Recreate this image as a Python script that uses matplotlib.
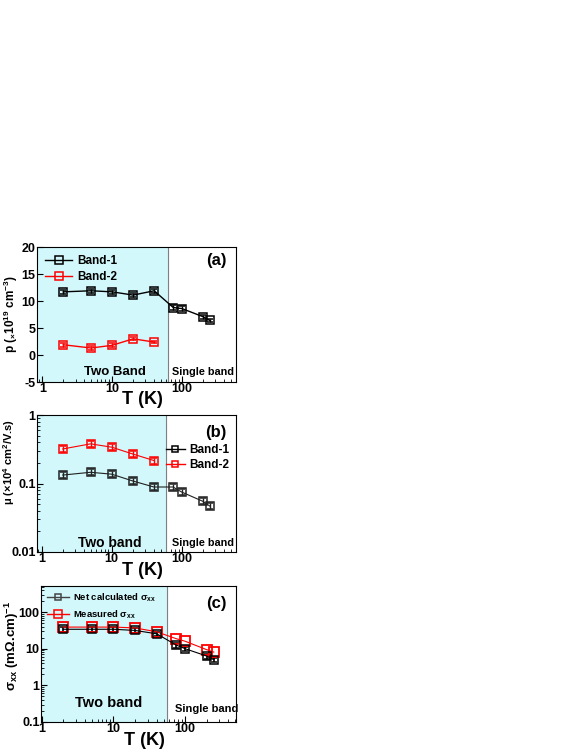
import matplotlib
matplotlib.use("Agg")
import matplotlib.pyplot as plt
from matplotlib.lines import Line2D
import numpy as np

plt.rcParams['font.family'] = ['Liberation Sans', 'DejaVu Sans']
plt.rcParams['font.weight'] = 'bold'
plt.rcParams['axes.labelweight'] = 'bold'
plt.rcParams['mathtext.default'] = 'regular'
plt.rcParams['axes.unicode_minus'] = False

# temperatures
T_all = [2, 5, 10, 20, 40, 75, 100, 200, 250]
T_two = [2, 5, 10, 20, 40]

# (a) carrier density, 1e19 cm^-3
p_band1 = [11.7, 11.9, 11.7, 11.1, 11.9, 8.8, 8.6, 7.1, 6.4]
p_band1_err = [0.4, 0.4, 0.4, 0.4, 0.4, 0.4, 0.4, 0.4, 0.3]
p_band2 = [1.9, 1.3, 1.8, 3.0, 2.4]
p_band2_err = [0.4, 0.4, 0.4, 0.3, 0.2]

# (b) mobility, 1e4 cm^2/V.s
mu_band1 = [0.133, 0.146, 0.137, 0.109, 0.089, 0.089, 0.075, 0.055, 0.047]
mu_band2 = [0.32, 0.38, 0.34, 0.27, 0.217]

# (c) conductivity, (mOhm cm)^-1
sig_calc = [34, 34, 34, 31.6, 25.6, 12.6, 10, 6.3, 5.0]
sig_meas = [39, 39, 39, 37, 29, 18.8, 16, 9.4, 8.1]

shade = '#D2F8FB'


def style(ax, xlim):
    ax.set_xscale('log')
    ax.set_xlim(*xlim)
    ax.set_xticks([1, 10, 100])
    ax.set_xticklabels(['1', '10', '100'])
    ax.tick_params(which='both', direction='in', labelsize=9, pad=1)
    ax.tick_params(which='major', length=4)
    ax.tick_params(which='minor', length=2)
    ax.set_xlabel('T (K)', fontsize=13)
    ax.xaxis.set_label_coords(0.53, -0.07)
    for lab in ax.get_xticklabels() + ax.get_yticklabels():
        lab.set_fontweight('bold')


def handle(color, ms=6):
    return Line2D([], [], color=color, marker='s', ms=ms, mfc='none', mew=1.1, lw=1)


fig = plt.figure(figsize=(5.81, 7.52), dpi=100)

# ---- (a)
ax1 = fig.add_axes([0.0637, 0.492, 0.343, 0.1795])
ax1.axvspan(0.5, 64, color=shade, zorder=0)
ax1.axvline(64, color='gray', lw=0.8)
ax1.errorbar(T_all, p_band1, yerr=p_band1_err, color='black', marker='s', ms=5.5,
             mfc='none', mew=1.1, lw=1, capsize=2, elinewidth=1)
ax1.errorbar(T_two, p_band2, yerr=p_band2_err, color='red', marker='s', ms=5.5,
             mfc='none', mew=1.1, lw=1, capsize=2, elinewidth=1)
ax1.set_ylim(-5, 20)
ax1.set_yticks([-5, 0, 5, 10, 15, 20])
style(ax1, (0.84, 600))
ax1.set_ylabel(r'p ($_{\times}$10$^{19}$ cm$^{-3}$)', fontsize=8.5)
ax1.yaxis.set_label_coords(-0.085, 0.5)
ax1.text(0.95, 0.9, '(a)', transform=ax1.transAxes, ha='right', va='center',
         fontsize=12, fontweight='bold')
ax1.text(11, -3.2, 'Two Band', ha='center', va='center', fontsize=9.5, fontweight='bold')
ax1.text(200, -3.2, 'Single band', ha='center', va='center', fontsize=7.8, fontweight='bold')
ax1.legend([handle('black'), handle('red')], ['Band-1', 'Band-2'],
           loc='upper left', frameon=False, fontsize=8.5, handlelength=2.3,
           borderaxespad=0.3, handletextpad=0.4, labelspacing=0.3)

# ---- (b)
ax2 = fig.add_axes([0.0637, 0.266, 0.343, 0.182])
ax2.axvspan(0.5, 60, color=shade, zorder=0)
ax2.axvline(60, color='gray', lw=0.8)
ax2.errorbar(T_all, mu_band1, yerr=np.array(mu_band1) * 0.1, color='#222222',
             marker='s', ms=5.5, mfc='none', mew=1.1, lw=0.8, capsize=2,
             elinewidth=1)
ax2.errorbar(T_two, mu_band2, yerr=np.array(mu_band2) * 0.1, color='red',
             marker='s', ms=5.5, mfc='none', mew=1.1, lw=0.8, capsize=2,
             elinewidth=1)
ax2.set_yscale('log')
ax2.set_ylim(0.01, 1)
ax2.set_yticks([0.01, 0.1, 1])
ax2.set_yticklabels(['0.01', '0.1', '1'])
style(ax2, (0.86, 600))
ax2.set_ylabel(r'$\mu$ ($\times$10$^{4}$ cm$^{2}$/V.s)', fontsize=8)
ax2.yaxis.set_label_coords(-0.1, 0.66)
ax2.text(0.95, 0.87, '(b)', transform=ax2.transAxes, ha='right', va='center',
         fontsize=12, fontweight='bold')
ax2.text(9.5, 0.0135, 'Two band', ha='center', va='center', fontsize=10, fontweight='bold')
ax2.text(200, 0.0135, 'Single band', ha='center', va='center', fontsize=7.8, fontweight='bold')
ax2.legend([handle('black', 5), handle('red', 5)], ['Band-1', 'Band-2'],
           loc='center right', bbox_to_anchor=(1.02, 0.69), frameon=False,
           fontsize=8.5, handlelength=1.6, handletextpad=0.4, labelspacing=0.3)

# ---- (c)
ax3 = fig.add_axes([0.0706, 0.0399, 0.3356, 0.181])
ax3.axvspan(0.5, 55, color=shade, zorder=0)
ax3.axvline(55, color='gray', lw=0.8)
ax3.errorbar(T_all, sig_calc, yerr=np.array(sig_calc) * 0.15, color='black',
             marker='s', ms=5.5, mfc='none', mew=1.1, lw=0.8, capsize=2,
             elinewidth=1.2)
ax3.plot(T_all, sig_meas, color='red', marker='s', ms=6.5, mfc='none', mew=1.3,
         lw=0.8)
ax3.set_yscale('log')
ax3.set_ylim(0.1, 520)
ax3.set_yticks([0.1, 1, 10, 100])
ax3.set_yticklabels(['0.1', '1', '10', '100'])
style(ax3, (0.98, 510))
ax3.set_ylabel(r'$\sigma_{xx}$ (m$\Omega$.cm)$^{-1}$', fontsize=9.5)
ax3.yaxis.set_label_coords(-0.105, 0.56)
ax3.text(0.95, 0.87, '(c)', transform=ax3.transAxes, ha='right', va='center',
         fontsize=12, fontweight='bold')
ax3.text(8.5, 0.32, 'Two band', ha='center', va='center', fontsize=10.5, fontweight='bold')
ax3.text(200, 0.23, 'Single band', ha='center', va='center', fontsize=8, fontweight='bold')
ax3.legend([handle('#444444', 5), handle('red', 5.5)],
           [r'Net calculated $\sigma_{xx}$', r'Measured $\sigma_{xx}$'],
           loc='upper left', frameon=False, fontsize=6.8, handlelength=2.4,
           borderaxespad=0.2, handletextpad=0.4, labelspacing=0.5)

fig.savefig('out.png', dpi=100)
